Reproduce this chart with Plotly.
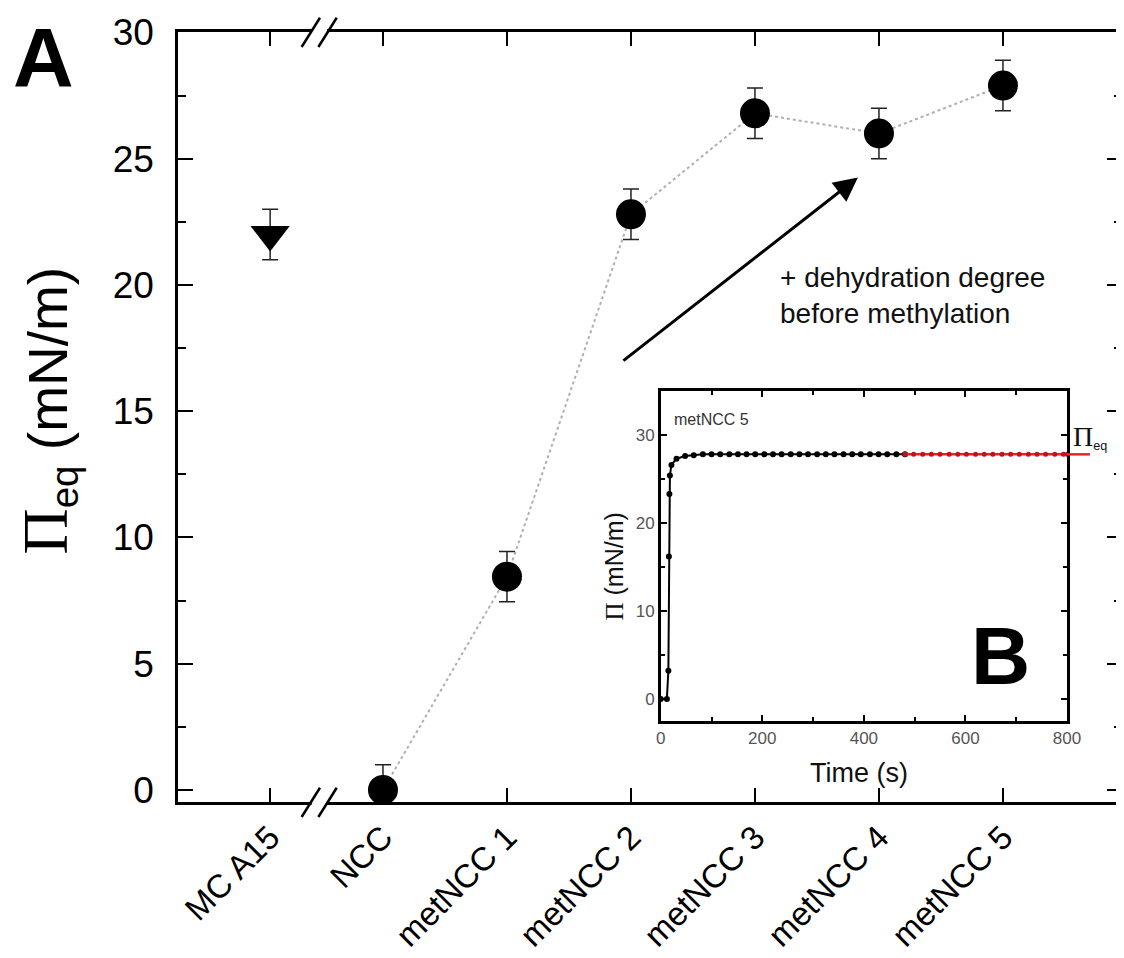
import plotly.graph_objects as go

# ---------------- data (main panel A) ----------------
categories = ["MC A15", "NCC", "metNCC 1", "metNCC 2", "metNCC 3", "metNCC 4", "metNCC 5"]
cat_pos = [0.09, 1, 2, 3, 4, 5, 6]          # axis positions (break between MCA15 and NCC)
pi_eq = [22.0, 0.0, 8.45, 22.8, 26.8, 26.0, 27.9]
pi_err = [1.0, 1.0, 1.0, 1.0, 1.0, 1.0, 1.0]

# ---------------- data (inset B, metNCC 5 kinetics) ----------------
t_rise = [0, 12, 15, 16, 17, 18, 21, 31, 48, 65, 83, 100, 117, 135, 152, 169, 186, 204,
          221, 238, 256, 273, 290, 308, 325, 342, 360, 377, 394, 412, 429, 446, 464, 481]
pi_rise = [0.0, 0.0, 3.2, 16.2, 23.3, 25.4, 26.6, 27.3, 27.6, 27.7, 27.8, 27.8, 27.8, 27.8,
           27.8, 27.8, 27.8, 27.8, 27.8, 27.8, 27.8, 27.8, 27.8, 27.8, 27.8, 27.8, 27.8,
           27.8, 27.8, 27.8, 27.8, 27.8, 27.8, 27.8]
t_eq = [481, 498, 516, 533, 550, 568, 585, 602, 620, 637, 654, 672, 689, 706, 724, 741,
        758, 776, 793, 800]
pi_eq_plateau = [27.8, 27.8, 27.8, 27.8, 27.8, 27.8, 27.8, 27.8, 27.8, 27.8, 27.8, 27.8,
                 27.8, 27.8, 27.8, 27.8, 27.8, 27.8, 27.8, 27.8]
pi_eq_value = 27.8

SANS = "Liberation Sans, Arial, Helvetica, sans-serif"
SERIF = "Liberation Serif, Times New Roman, serif"

fig = go.Figure()

# dotted connecting line (NCC .. metNCC 5)
fig.add_trace(go.Scatter(
    x=cat_pos[1:], y=pi_eq[1:], mode="lines",
    line=dict(color="#b0b0b0", width=2, dash="dot"),
    hoverinfo="skip", showlegend=False))

# MCA15 triangle
fig.add_trace(go.Scatter(
    x=cat_pos[:1], y=pi_eq[:1], mode="markers",
    marker=dict(symbol="triangle-down", size=34, color="black"),
    error_y=dict(type="data", array=pi_err[:1], color="#222222", thickness=1.5, width=8),
    showlegend=False))

# NCC and metNCC circles
fig.add_trace(go.Scatter(
    x=cat_pos[1:], y=pi_eq[1:], mode="markers",
    marker=dict(symbol="circle", size=30, color="black"),
    error_y=dict(type="data", array=pi_err[1:], color="#222222", thickness=1.5, width=8),
    cliponaxis=False, showlegend=False))

# inset traces
fig.add_trace(go.Scatter(
    x=t_rise, y=pi_rise, mode="lines+markers", xaxis="x2", yaxis="y2",
    line=dict(color="black", width=2), marker=dict(color="black", size=6),
    showlegend=False))
fig.add_trace(go.Scatter(
    x=t_eq, y=pi_eq_plateau, mode="lines+markers", xaxis="x2", yaxis="y2",
    line=dict(color="#e8202a", width=2.5), marker=dict(color="#c0141c", size=5),
    showlegend=False))

axis_common = dict(showline=True, linecolor="black", linewidth=2.5, mirror="ticks",
                   showgrid=False, zeroline=False, ticks="inside", tickcolor="black",
                   automargin=False)

# page body adds an 8 px offset, margins compensate for it
fig.update_layout(
    width=1124, height=958,
    margin=dict(l=170, r=10, t=24, b=164),
    paper_bgcolor="white", plot_bgcolor="white",
    font=dict(family=SANS, color="black"),
    xaxis=dict(**axis_common, range=[-0.653, 6.96], tickmode="array",
               tickvals=cat_pos, ticktext=categories, ticklen=14, tickwidth=2,
               tickangle=-45, tickfont=dict(size=33, family=SANS)),
    yaxis=dict(**axis_common, range=[-0.476, 30.02], tickmode="linear", tick0=0, dtick=5,
               ticklen=15, tickwidth=2, tickfont=dict(size=37, family=SANS),
               ticklabelstandoff=14,
               minor=dict(dtick=2.5, ticks="inside", ticklen=8, tickwidth=2, tickcolor="black")),
    xaxis2=dict(**axis_common, domain=[0.5114, 0.9417], anchor="y2", range=[0, 800],
                tickmode="linear", tick0=0, dtick=200, ticklen=6, tickwidth=2,
                tickfont=dict(size=17, color="#555555"),
                minor=dict(dtick=100, ticks="inside", ticklen=4, tickwidth=2, tickcolor="black")),
    yaxis2=dict(**axis_common, domain=[0.1052, 0.5338], anchor="x2", range=[-2.5, 35],
                tickmode="linear", tick0=0, dtick=10, ticklen=6, tickwidth=2,
                tickfont=dict(size=17, color="#555555"),
                minor=dict(dtick=5, ticks="inside", ticklen=4, tickwidth=2, tickcolor="black")),
)

# Axis-break marks "//" on top and bottom axes between MCA15 and NCC
for yc in (0.0, 1.0):
    fig.add_shape(type="rect", xref="x", yref="paper", x0=0.425, x1=0.55,
                  y0=yc - 0.006, y1=yc + 0.006, fillcolor="white",
                  line=dict(width=0), layer="above")
    for dx in (0.0, 0.135):
        fig.add_shape(type="line", xref="x", yref="paper",
                      x0=0.344 + dx, x1=0.492 + dx, y0=yc - 0.0195, y1=yc + 0.0185,
                      line=dict(color="black", width=2.5), layer="above")

# red equilibrium line extends past the inset frame
fig.add_shape(type="line", xref="paper", yref="y2", x0=0.9417, x1=0.966,
              y0=pi_eq_value, y1=pi_eq_value, line=dict(color="#e8202a", width=2.5),
              layer="above")

# arrow
fig.add_annotation(x=4.83, y=24.26, ax=2.927, ay=16.96, xref="x", yref="y",
                   axref="x", ayref="y", showarrow=True, arrowhead=2, arrowsize=1.6,
                   arrowwidth=3, arrowcolor="black", text="")
fig.add_annotation(x=4.185, y=19.6, xref="x", yref="y", showarrow=False,
                   xanchor="left", yanchor="middle", align="left",
                   text="+ dehydration degree<br>before methylation",
                   font=dict(size=28, family=SANS, color="#111111"))

# panel labels
fig.add_annotation(x=-0.143, y=0.966, xref="paper", yref="paper", showarrow=False,
                   xanchor="center", yanchor="middle",
                   text="<b>A</b>", font=dict(size=84, family=SANS, color="black"))
fig.add_annotation(x=670, y=4.9, xref="x2", yref="y2", showarrow=False,
                   xanchor="center", yanchor="middle",
                   text="<b>B</b>", font=dict(size=82, family=SANS, color="black"))
fig.add_annotation(x=22, y=31.8, xref="x2", yref="y2", showarrow=False,
                   xanchor="left", yanchor="middle", text="metNCC 5",
                   font=dict(size=16, family=SANS, color="#333333"))

# main y title
fig.add_annotation(x=-0.137, y=0.508, xref="paper", yref="paper", showarrow=False,
                   xanchor="center", yanchor="middle", textangle=-90,
                   text=("<span style='font-family:Liberation Serif, Times New Roman, serif;"
                         "font-size:64px'>\u03a0</span><sub>eq</sub> (mN/m)"),
                   font=dict(size=55, family=SANS, color="black"))

# inset titles
fig.add_annotation(x=0.7212, y=0.038, xref="paper", yref="paper", showarrow=False,
                   xanchor="center", yanchor="middle",
                   text="Time (s)", font=dict(size=27, family=SANS, color="#111111"))
fig.add_annotation(x=0.462, y=0.306, xref="paper", yref="paper", showarrow=False,
                   xanchor="center", yanchor="middle", textangle=-90,
                   text=("<span style='font-family:Liberation Serif, Times New Roman, serif'>"
                         "\u03a0</span> (mN/m)"),
                   font=dict(size=25, family=SANS, color="#111111"))
fig.add_annotation(x=0.946, y=0.474, xref="paper", yref="paper", showarrow=False,
                   xanchor="left", yanchor="middle",
                   text=("<span style='font-family:Liberation Serif, Times New Roman, serif;"
                         "font-size:28px'>\u03a0</span><sub>eq</sub>"),
                   font=dict(size=18, family=SANS, color="#111111"))

fig.write_html("out.html")
